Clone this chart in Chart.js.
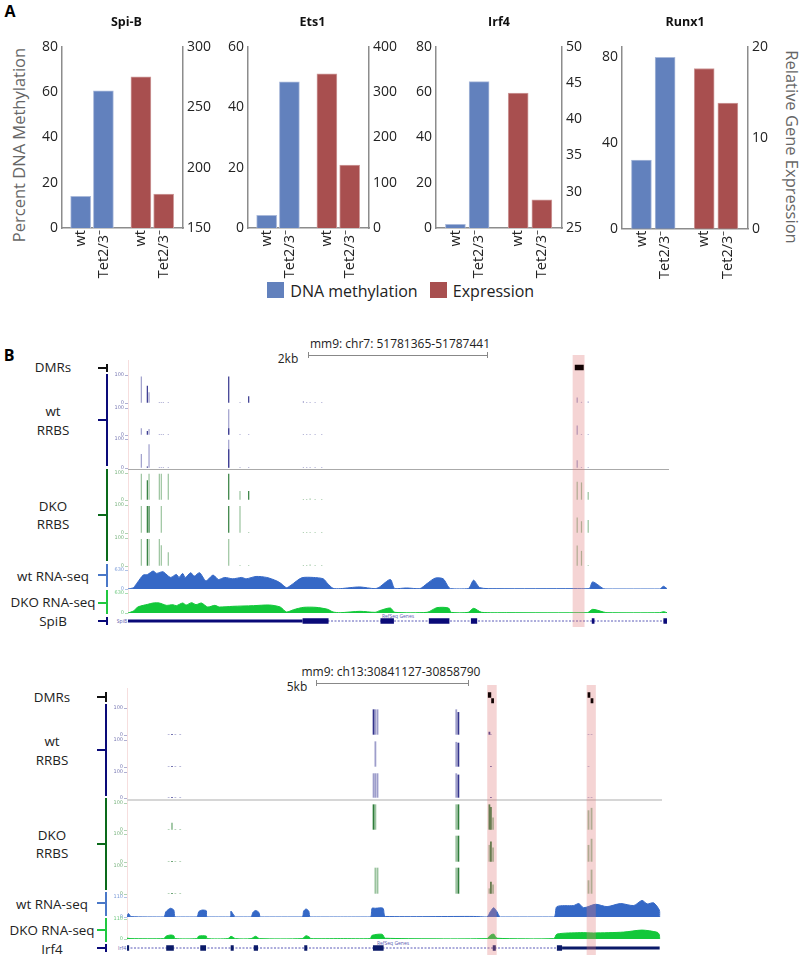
<!DOCTYPE html>
<html>
<head>
<meta charset="utf-8">
<script src="https://cdn.jsdelivr.net/npm/chart.js@4"></script>
<style>
  html, body { margin: 0; background: #fff; }
  #page { position: relative; width: 800px; height: 967px; overflow: hidden; font-family: "Open Sans", sans-serif; color: #222; }
  #page canvas { position: absolute; }
  .txt { position: absolute; white-space: nowrap; transform: translate(-50%, -50%); }
  .box { position: absolute; }
</style>
</head>
<body>
<div id="page"></div>
<script>
// panel A
const sampleLabels = ["wt", "Tet2/3\u207B", "wt", "Tet2/3\u207B"];
const barSlots = [1, 2, 3.65, 4.65];
const spibMethylation = [14, 60.5];
const spibExpression = [275, 178];
const ets1Methylation = [4.2, 48.4];
const ets1Expression = [340, 139];
const irf4Methylation = [1.6, 64.6];
const irf4Expression = [43.6, 28.9];
const runx1Methylation = [32, 80];
const runx1Expression = [17.6, 13.8];

// panel B, SpiB locus, positions in kb from the window start
const spibSites = [0.149, 0.216, 0.235, 0.35, 0.372, 0.395, 0.45, 1.125, 1.251, 1.348, 1.959, 1.996, 2.034, 2.09, 2.164, 5.017, 5.065, 5.14];
const spibWt1Strong = [0, 62, 0, 0, 0, 0, 0, 95, 0, 24, 0, 0, 0, 0, 0, 0, 0, 0];
const spibWt1Pale = [95, 0, 38, 1, 1, 1, 1, 0, 1, 0, 6, 2, 2, 2, 2, 20, 4, 5];
const spibWt2Strong = [0, 15, 0, 0, 0, 0, 0, 25, 0, 0, 0, 0, 0, 0, 0, 0, 0, 0];
const spibWt2Pale = [25, 0, 22, 1, 1, 1, 1, 95, 1, 1, 1, 1, 1, 1, 1, 35, 1, 1];
const spibWt3Strong = [0, 5, 0, 0, 0, 0, 0, 65, 0, 0, 0, 0, 0, 0, 0, 0, 0, 0];
const spibWt3Pale = [48, 0, 82, 1, 1, 1, 1, 97, 1, 1, 1, 1, 1, 1, 1, 27, 3, 2];
const spibDko1Strong = [0, 73, 0, 0, 0, 0, 0, 97, 0, 33, 0, 0, 0, 0, 0, 0, 0, 0];
const spibDko1Pale = [97, 0, 97, 97, 97, 0, 97, 0, 33, 0, 4, 2, 6, 3, 2, 68, 65, 30];
const spibDko2Strong = [0, 96, 96, 0, 0, 0, 0, 96, 0, 0, 0, 0, 0, 0, 0, 0, 0, 0];
const spibDko2Pale = [96, 0, 0, 0, 96, 0, 0, 0, 96, 2, 2, 2, 2, 2, 2, 55, 42, 46];
const spibDko3Strong = [0, 96, 0, 0, 0, 0, 0, 0, 0, 0, 0, 0, 0, 0, 0, 0, 0, 0];
const spibDko3Pale = [96, 0, 96, 96, 74, 0, 49, 96, 2, 2, 3, 3, 5, 3, 3, 73, 54, 4];

const spibRnaWtKb = [0, .06, .11, .17, .22, .28, .32, .39, .45, .48, .54, .57, .61, .64, .7, .74, .8, .87, .95, 1.01, 1.08, 1.17, 1.27, 1.32, 1.43, 1.55, 1.66, 1.71, 1.77, 1.82, 1.94, 2.07, 2.18, 2.23, 2.29, 2.37, 2.48, 2.59, 2.76, 2.81, 2.93, 2.98, 3.11, 3.26, 3.34, 3.43, 3.52, 3.6, 3.8, 3.86, 3.93, 4.12, 4.98, 5.15, 5.19, 5.31, 5.35, 5.94, 5.98, 6.02];
const spibRnaWt = [0, 45, 236, 461, 484, 596, 518, 574, 428, 383, 484, 383, 518, 383, 540, 428, 540, 270, 461, 315, 383, 338, 383, 338, 416, 383, 270, 180, 45, 124, 371, 383, 338, 180, 22, 11, 45, 68, 11, 68, 315, 11, 34, 11, 180, 360, 338, 11, 11, 292, 45, 11, 11, 11, 236, 11, 0, 0, 90, 11];
const spibRnaDkoKb = [0, .06, .11, .17, .22, .28, .35, .43, .5, .54, .61, .65, .71, .76, .82, .89, .97, 1.02, 1.17, 1.4, 1.58, 1.7, 1.77, 1.85, 1.96, 2.1, 2.23, 2.29, 2.37, 2.59, 2.76, 2.81, 2.93, 2.98, 3.34, 3.45, 3.58, 3.61, 3.8, 3.86, 3.95, 4.23, 5.13, 5.19, 5.31, 5.35, 5.94, 5.98, 6.02];
const spibRnaDko = [0, 63, 189, 241, 273, 315, 315, 241, 262, 231, 315, 252, 326, 262, 315, 189, 241, 189, 210, 231, 252, 189, 32, 105, 178, 178, 116, 32, 10, 53, 21, 74, 158, 21, 21, 168, 158, 21, 21, 147, 21, 10, 10, 116, 32, 10, 10, 42, 10];

const spibDmrs = [[4.99, 5.09]];
const spibHighlights = [[4.97, 5.095]];
const spibIntron = [[0, 6.02]];
const spibUtr = [[0, 1.95]];
const spibExons = [[1.95, 2.24], [2.82, 2.97], [3.36, 3.59], [3.83, 3.9], [5.18, 5.21], [5.98, 6.02]];

// panel B, Irf4 locus
const irf4Sites = [1.37, 1.48, 1.59, 1.75, 8.11, 8.17, 8.24, 10.83, 10.9, 11.92, 11.97, 12.04, 15.18, 15.28];
const irf4Wt1Strong = [0, 3, 0, 0, 95, 0, 0, 0, 85, 12, 0, 0, 0, 0];
const irf4Wt1Pale = [2, 0, 1, 1, 0, 95, 95, 95, 0, 0, 1, 0, 1, 1];
const irf4Wt2Strong = [0, 2, 0, 0, 0, 0, 0, 0, 90, 0, 2, 0, 0, 0];
const irf4Wt2Pale = [1, 0, 1, 1, 0, 95, 0, 93, 0, 0, 0, 0, 1, 0];
const irf4Wt3Strong = [0, 3, 0, 0, 0, 0, 0, 0, 90, 0, 2, 0, 0, 0];
const irf4Wt3Pale = [1, 0, 1, 1, 95, 95, 95, 95, 0, 0, 0, 0, 1, 1];
const irf4Dko1Strong = [0, 0, 0, 0, 95, 0, 0, 0, 95, 95, 85, 0, 0, 0];
const irf4Dko1Pale = [2, 27, 3, 2, 0, 95, 0, 95, 0, 0, 0, 46, 73, 82];
const irf4Dko2Strong = [0, 2, 0, 0, 0, 0, 0, 0, 94, 0, 73, 0, 0, 0];
const irf4Dko2Pale = [2, 0, 1, 1, 0, 0, 0, 94, 0, 61, 0, 52, 61, 83];
const irf4Dko3Strong = [0, 2, 0, 0, 0, 0, 0, 0, 94, 0, 44, 0, 0, 0];
const irf4Dko3Pale = [1, 0, 1, 1, 0, 94, 94, 94, 0, 20, 0, 34, 49, 87];

const irf4RnaWtKb = [0, .05, .13, 1.21, 1.28, 1.43, 1.54, 1.58, 1.81, 2.3, 2.36, 2.47, 2.61, 2.63, 3.4, 3.42, 3.57, 4.08, 4.14, 4.23, 4.34, 4.39, 5.76, 5.81, 5.89, 5.98, 6.03, 7.02, 8, 8.06, 8.17, 8.42, 8.5, 11.4, 11.84, 11.95, 12.06, 12.17, 12.28, 14.04, 14.14, 14.69, 14.86, 15.02, 15.41, 15.79, 16.23, 16.67, 16.94, 17.11, 17.32, 17.51, 17.52];
const irf4RnaWt = [6, 19, 2, 0, 29, 48, 38, 0, 0, 0, 29, 38, 34, 0, 0, 32, 0, 0, 25, 36, 25, 0, 0, 32, 44, 32, 0, 0, 0, 48, 48, 48, 3, 3, 0, 29, 51, 29, 0, 0, 57, 63, 74, 51, 70, 57, 74, 63, 91, 72, 78, 38, 0];
const irf4RnaDkoKb = [0, .13, 1.21, 1.28, 1.43, 1.54, 1.58, 2.3, 2.36, 2.61, 2.63, 3.32, 3.42, 3.57, 4.08, 4.23, 4.36, 5.76, 5.89, 6.01, 6.03, 7.02, 8, 8.06, 8.39, 8.5, 11.84, 11.95, 12.06, 12.17, 14.04, 14.14, 14.91, 15.35, 16.34, 16.94, 17.44, 17.51, 17.52];
const irf4RnaDko = [5, 2, 2, 15, 22, 18, 2, 2, 16, 16, 2, 2, 15, 2, 2, 15, 2, 2, 18, 9, 2, 2, 2, 20, 26, 4, 2, 20, 27, 4, 2, 27, 35, 33, 38, 49, 37, 24, 0];

const irf4DmrsUpper = [[11.87, 11.98], [15.15, 15.24]];
const irf4DmrsLower = [[11.98, 12.07], [15.25, 15.34]];
const irf4Highlights = [[11.86, 12.15], [15.13, 15.41]];
const irf4Intron = [[0, 14.14]];
const irf4Utr = [[14.31, 17.52]];
const irf4Exons = [[0, .07], [1.29, 1.54], [2.41, 2.6], [3.41, 3.51], [4.17, 4.31], [5.83, 5.93], [8.09, 8.44], [12.03, 12.13], [14.14, 14.31]];

const BLUE = "#6281bd";
const RED = "#a84f4f";
const AXIS_GREY = "#8c8c8c";
const NAVY = "#0a0a78";

const page = document.getElementById("page");

Chart.defaults.animation = false;
Chart.defaults.responsive = false;
Chart.defaults.plugins.legend.display = false;
Chart.defaults.plugins.tooltip.enabled = false;
Chart.defaults.font.family = '"Open Sans", sans-serif';

const addCanvas = (left, top, width, height, zIndex = 1) => {
  const canvas = document.createElement("canvas");
  canvas.width = width;
  canvas.height = height;
  canvas.style.left = left + "px";
  canvas.style.top = top + "px";
  canvas.style.zIndex = zIndex;
  page.appendChild(canvas);
  return canvas.getContext("2d");
};

const addText = (text, x, y, size, extra = {}) => {
  const el = document.createElement("div");
  el.className = "txt";
  el.textContent = text;
  el.style.left = x + "px";
  el.style.top = y + "px";
  el.style.fontSize = size + "px";
  Object.assign(el.style, extra);
  page.appendChild(el);
};

const addBox = (x, y, w, h, color) => {
  const el = document.createElement("div");
  el.className = "box";
  el.style.cssText = `left:${x}px;top:${y}px;width:${w}px;height:${h}px;background:${color}`;
  page.appendChild(el);
};

// bar chart with a left and right axis, plot area pinned to the given pixels
const drawGeneBars = (o) => {
  const canvasTop = 15;
  const canvasBottom = 292;
  const left = o.axisLeft - o.leftWidth;
  const width = o.leftWidth + (o.axisRight - o.axisLeft) + o.rightWidth;
  const ctx = addCanvas(Math.round(left), canvasTop, Math.round(width), canvasBottom - canvasTop);
  const tickFont = { size: 14 };
  new Chart(ctx, {
    type: "bar",
    data: {
      datasets: [
        {
          yAxisID: "yL",
          backgroundColor: BLUE,
          borderColor: "#a9b9da",
          borderWidth: 1,
          data: o.methylation.map((v, i) => ({ x: barSlots[i], y: v })),
        },
        {
          yAxisID: "yR",
          backgroundColor: RED,
          borderColor: "#cf9c9c",
          borderWidth: 1,
          data: o.expression.map((v, i) => ({ x: barSlots[i + 2], y: v })),
        },
      ],
    },
    options: {
      layout: { padding: 0 },
      datasets: { bar: { barThickness: 20, grouped: false } },
      plugins: {
        title: {
          display: true,
          text: o.title,
          color: "#111",
          font: { size: 12.5, weight: "bold" },
          padding: { top: 0, bottom: 46.7 - canvasTop - 15 },
        },
      },
      scales: {
        x: {
          type: "linear",
          min: 0.18,
          max: 5.5,
          offset: false,
          grid: { display: false, drawTicks: false },
          border: { color: AXIS_GREY, width: 1.5 },
          afterBuildTicks: (s) => { s.ticks = barSlots.map((v) => ({ value: v })); },
          afterFit: (s) => { s.height = canvasBottom - o.baseline; },
          ticks: {
            autoSkip: false,
            minRotation: 90,
            maxRotation: 90,
            padding: 2,
            color: "#222",
            font: { size: 14.5 },
            callback: (v) => sampleLabels[barSlots.indexOf(v)],
          },
        },
        yL: {
          position: "left",
          min: 0,
          max: o.leftMax,
          grid: { display: false, drawTicks: false },
          border: { color: AXIS_GREY, width: 1.5 },
          afterBuildTicks: (s) => { s.ticks = o.leftTicks.map((v) => ({ value: v })); },
          afterFit: (s) => { s.width = o.leftWidth; },
          ticks: { padding: 4, color: "#222", font: tickFont },
        },
        yR: {
          position: "right",
          min: o.rightMin,
          max: o.rightMax,
          grid: { display: false, drawTicks: false },
          border: { color: AXIS_GREY, width: 1.5 },
          afterBuildTicks: (s) => { s.ticks = o.rightTicks.map((v) => ({ value: v })); },
          afterFit: (s) => { s.width = o.rightWidth; },
          ticks: { padding: 4, color: "#222", font: tickFont },
        },
      },
    },
  });
};

const hiddenLinear = (min, max) => ({ type: "linear", display: false, offset: false, min, max });

const toPoints = (xs, ys) => xs.map((x, i) => ({ x, y: ys[i] }));

// a site with no reads has no bar at all, so minBarLength must not touch it
const toSitePoints = (xs, ys) => xs.map((x, i) => ({ x, y: ys[i] || null }));

// one browser track: small left axis with two ticks
const trackOptions = (win, yMax, tickColor) => ({
  layout: { padding: { top: 4, bottom: 4, left: 0, right: 0 } },
  scales: {
    x: hiddenLinear(0, win.kb),
    y: {
      min: 0,
      max: yMax,
      grid: { drawOnChartArea: false, tickLength: 3, color: tickColor, lineWidth: 0.6 },
      border: { display: false },
      afterBuildTicks: (s) => { s.ticks = [{ value: 0 }, { value: yMax }]; },
      afterFit: (s) => { s.width = win.x0 - win.axisCanvasLeft; },
      ticks: { padding: 1, color: tickColor, font: { size: 5, family: '"DejaVu Sans"' } },
    },
  },
});

const drawRrbsTrack = (win, y100, y0, strong, pale, strongColor, paleColor, tickColor) => {
  const ctx = addCanvas(win.axisCanvasLeft, y100 - 4, win.x1 - win.axisCanvasLeft, y0 - y100 + 8);
  new Chart(ctx, {
    type: "bar",
    data: {
      datasets: [
        { data: toSitePoints(win.sites, strong), backgroundColor: strongColor },
        { data: toSitePoints(win.sites, pale), backgroundColor: paleColor },
      ],
    },
    options: {
      ...trackOptions(win, 100, tickColor),
      datasets: { bar: { barThickness: win.barWidth, minBarLength: 1, grouped: false, inflateAmount: 0 } },
    },
  });
};

const drawRnaTrack = (win, yTop, y0, xs, ys, yMax, color, tickColor) => {
  const ctx = addCanvas(win.axisCanvasLeft, yTop - 4, win.x1 - win.axisCanvasLeft, y0 - yTop + 8);
  new Chart(ctx, {
    type: "line",
    data: {
      datasets: [
        {
          data: toPoints(xs, ys),
          borderColor: color,
          borderWidth: 1,
          backgroundColor: color,
          fill: "origin",
          pointRadius: 0,
          tension: 0.25,
        },
      ],
    },
    options: trackOptions(win, yMax, tickColor),
  });
};

const asSegments = (pairs, level) =>
  pairs.flatMap(([a, b]) => [{ x: a, y: level }, { x: b, y: level }, { x: b, y: null }]);

// gene models and DMR blocks: thick line segments along the kb axis
const drawSegments = (win, top, height, rows, zIndex = 2) => {
  const ctx = addCanvas(win.x0, top, win.x1 - win.x0, height, zIndex);
  new Chart(ctx, {
    type: "line",
    data: {
      datasets: rows.map((r) => ({
        data: asSegments(r.pairs, r.level),
        borderColor: r.color,
        borderWidth: r.width,
        borderDash: r.dash || [],
        pointRadius: 0,
        spanGaps: false,
      })),
    },
    options: {
      layout: { padding: 0 },
      scales: { x: hiddenLinear(0, win.kb), y: hiddenLinear(0, 1) },
    },
  });
};

const drawHighlights = (win, top, height, pairs) => {
  const ctx = addCanvas(win.x0, top, win.x1 - win.x0, height, 5);
  ctx.canvas.style.pointerEvents = "none";
  new Chart(ctx, {
    type: "bar",
    data: {
      labels: ["region"],
      datasets: pairs.map((p) => ({ data: [p], backgroundColor: "rgba(224,120,120,0.32)" })),
    },
    options: {
      indexAxis: "y",
      layout: { padding: 0 },
      datasets: { bar: { grouped: false, barPercentage: 1, categoryPercentage: 1 } },
      scales: {
        x: hiddenLinear(0, win.kb),
        y: { type: "category", display: false },
      },
    },
  });
};

const bracket = (x, yTop, yBottom, yTick, color) => {
  addBox(x, yTop, 2, yBottom - yTop, color);
  addBox(x - 8, yTick - 1, 8, 2, color);
};

const WT_STRONG = "#34348c";
const WT_PALE = "rgba(125,125,185,0.75)";
const DKO_STRONG = "#2f7d3b";
const DKO_PALE = "rgba(120,175,125,0.75)";
const WT_TICK = "#7a7ab4";
const DKO_TICK = "#7ab47f";
const RNA_BLUE = "#3568c6";
const RNA_GREEN = "#12c83a";
const LABEL_SIZE = 13.4;
const HEADER_SIZE = 12;

// ---- panel A ----
addText("A", 10, 11, 16, { fontWeight: "bold", color: "#000" });

drawGeneBars({
  title: "Spi-B", axisLeft: 61.7, axisRight: 182.3, baseline: 228, leftWidth: 36, rightWidth: 44,
  leftMax: 80, leftTicks: [0, 20, 40, 60, 80], rightMin: 150, rightMax: 300, rightTicks: [150, 200, 250, 300],
  methylation: spibMethylation, expression: spibExpression,
});
drawGeneBars({
  title: "Ets1", axisLeft: 248.3, axisRight: 369, baseline: 228, leftWidth: 36, rightWidth: 44,
  leftMax: 60, leftTicks: [0, 20, 40, 60], rightMin: 0, rightMax: 400, rightTicks: [0, 100, 200, 300, 400],
  methylation: ets1Methylation, expression: ets1Expression,
});
drawGeneBars({
  title: "Irf4", axisLeft: 435.7, axisRight: 561.7, baseline: 228, leftWidth: 40, rightWidth: 40,
  leftMax: 80, leftTicks: [0, 20, 40, 60, 80], rightMin: 25, rightMax: 50, rightTicks: [25, 30, 35, 40, 45, 50],
  methylation: irf4Methylation, expression: irf4Expression,
});
drawGeneBars({
  title: "Runx1", axisLeft: 622.3, axisRight: 748.3, baseline: 228.7, leftWidth: 40, rightWidth: 40,
  leftMax: 85, leftTicks: [0, 40, 80], rightMin: 0, rightMax: 20, rightTicks: [0, 10, 20],
  methylation: runx1Methylation, expression: runx1Expression,
});

addText("Percent DNA Methylation", 18, 145, 16.5, { transform: "translate(-50%,-50%) rotate(-90deg)", color: "#666" });
addText("Relative Gene Expression", 792, 147, 16.5, { transform: "translate(-50%,-50%) rotate(90deg)", color: "#666" });

addBox(267, 282, 17, 16, BLUE);
addText("DNA methylation", 354, 291, 16);
addBox(430, 282, 17, 16, RED);
addText("Expression", 493.5, 291, 16);

// ---- panel B ----
addText("B", 9, 355, 16, { fontWeight: "bold", color: "#000" });

const spibWindow = { kb: 6.076, x0: 128, x1: 672, axisCanvasLeft: 100, sites: spibSites, barWidth: 1.2 };
const irf4Window = { kb: 17.663, x0: 127, x1: 664, axisCanvasLeft: 100, sites: irf4Sites, barWidth: 1.8 };

// SpiB locus
addText("mm9: chr7: 51781365-51787441", 400, 343, HEADER_SIZE);
addBox(308, 355, 179, 1, "#888");
addBox(308, 352, 1, 6, "#888");
addBox(487, 352, 1, 6, "#888");
addText("2kb", 288, 358, HEADER_SIZE);
addBox(128, 360, 1, 254, "#f6dede");
addBox(128, 469, 541, 1, "#aaaaaa");

addText("DMRs", 53, 367, LABEL_SIZE);
addText("wt", 53, 411, LABEL_SIZE);
addText("RRBS", 53, 430, LABEL_SIZE);
addText("DKO", 53, 506, LABEL_SIZE);
addText("RRBS", 53, 524, LABEL_SIZE);
addText("wt RNA-seq", 53, 576, LABEL_SIZE);
addText("DKO RNA-seq", 53, 602, LABEL_SIZE);
addText("SpiB", 53, 621, LABEL_SIZE);
addText("SpiB", 122, 621, 5, { color: "#5a5ab0" });
addText("RefSeq Genes", 398, 616, 5, { color: "#5a5ab0" });

bracket(106, 364, 372, 368, "#111");
bracket(106, 374, 466, 420, NAVY);
bracket(106, 469, 561, 515, "#0a6a1a");
bracket(106, 564, 587, 575, "#4a78c8");
bracket(106, 590, 614, 603, "#20c840");
bracket(106, 617, 625, 621, NAVY);

drawSegments(spibWindow, 362, 11, [{ pairs: spibDmrs, level: 0.5, width: 5.5, color: "#120303" }], 6);
drawRrbsTrack(spibWindow, 375, 403, spibWt1Strong, spibWt1Pale, WT_STRONG, WT_PALE, WT_TICK);
drawRrbsTrack(spibWindow, 408, 435, spibWt2Strong, spibWt2Pale, WT_STRONG, WT_PALE, WT_TICK);
drawRrbsTrack(spibWindow, 439, 468, spibWt3Strong, spibWt3Pale, WT_STRONG, WT_PALE, WT_TICK);
drawRrbsTrack(spibWindow, 473, 500, spibDko1Strong, spibDko1Pale, DKO_STRONG, DKO_PALE, DKO_TICK);
drawRrbsTrack(spibWindow, 505, 533, spibDko2Strong, spibDko2Pale, DKO_STRONG, DKO_PALE, DKO_TICK);
drawRrbsTrack(spibWindow, 538, 566, spibDko3Strong, spibDko3Pale, DKO_STRONG, DKO_PALE, DKO_TICK);
drawRnaTrack(spibWindow, 570, 589, spibRnaWtKb, spibRnaWt, 630, RNA_BLUE, "#7a9ad8");
drawRnaTrack(spibWindow, 593, 613, spibRnaDkoKb, spibRnaDko, 630, RNA_GREEN, "#70c880");
drawSegments(spibWindow, 615, 12, [
  { pairs: spibExons, level: 0.5, width: 5.5, color: NAVY },
  { pairs: spibUtr, level: 0.5, width: 3, color: NAVY },
  { pairs: spibIntron, level: 0.5, width: 1, color: "#5a5ab8", dash: [2, 1.5] },
]);
drawHighlights(spibWindow, 355, 272, spibHighlights);

// Irf4 locus
addText("mm9: ch13:30841127-30858790", 391, 671, HEADER_SIZE);
addBox(316, 683, 153, 1, "#888");
addBox(316, 680, 1, 6, "#888");
addBox(468, 680, 1, 6, "#888");
addText("5kb", 297, 686, HEADER_SIZE);
addBox(127, 688, 1, 252, "#f6dede");
addBox(127, 799, 535, 2, "#d6d6d6");

addText("DMRs", 52, 697, LABEL_SIZE);
addText("wt", 52, 741, LABEL_SIZE);
addText("RRBS", 52, 760, LABEL_SIZE);
addText("DKO", 52, 835, LABEL_SIZE);
addText("RRBS", 52, 853, LABEL_SIZE);
addText("wt RNA-seq", 52, 904, LABEL_SIZE);
addText("DKO RNA-seq", 52, 930, LABEL_SIZE);
addText("Irf4", 52, 949, LABEL_SIZE);
addText("Irf4", 122, 948, 5, { color: "#5a5ab0" });
addText("RefSeq Genes", 393, 943, 5, { color: "#5a5ab0" });

bracket(105, 692, 702, 697, "#111");
bracket(105, 704, 796, 750, NAVY);
bracket(105, 798, 890, 844, "#0a6a1a");
bracket(105, 892, 916, 903, "#4a78c8");
bracket(105, 918, 942, 930, "#20c840");
bracket(105, 944, 952, 948, NAVY);

drawSegments(irf4Window, 690, 15, [
  { pairs: irf4DmrsUpper, level: 0.67, width: 5.5, color: "#120303" },
  { pairs: irf4DmrsLower, level: 0.28, width: 5, color: "#120303" },
], 6);
drawRrbsTrack(irf4Window, 708, 735, irf4Wt1Strong, irf4Wt1Pale, WT_STRONG, WT_PALE, WT_TICK);
drawRrbsTrack(irf4Window, 740, 767, irf4Wt2Strong, irf4Wt2Pale, WT_STRONG, WT_PALE, WT_TICK);
drawRrbsTrack(irf4Window, 772, 798, irf4Wt3Strong, irf4Wt3Pale, WT_STRONG, WT_PALE, WT_TICK);
drawRrbsTrack(irf4Window, 803, 830, irf4Dko1Strong, irf4Dko1Pale, DKO_STRONG, DKO_PALE, DKO_TICK);
drawRrbsTrack(irf4Window, 834, 862, irf4Dko2Strong, irf4Dko2Pale, DKO_STRONG, DKO_PALE, DKO_TICK);
drawRrbsTrack(irf4Window, 866, 894, irf4Dko3Strong, irf4Dko3Pale, DKO_STRONG, DKO_PALE, DKO_TICK);
drawRnaTrack(irf4Window, 897, 917, irf4RnaWtKb, irf4RnaWt, 110, RNA_BLUE, "#7a9ad8");
drawRnaTrack(irf4Window, 919, 939, irf4RnaDkoKb, irf4RnaDko, 110, RNA_GREEN, "#70c880");
drawSegments(irf4Window, 942, 12, [
  { pairs: irf4Exons, level: 0.5, width: 5.5, color: "#0a1a68" },
  { pairs: irf4Utr, level: 0.5, width: 3, color: "#0a1a68" },
  { pairs: irf4Intron, level: 0.5, width: 1, color: "#5a5ab8", dash: [2, 1.5] },
]);
drawHighlights(irf4Window, 685, 270, irf4Highlights);
</script>
</body>
</html>
